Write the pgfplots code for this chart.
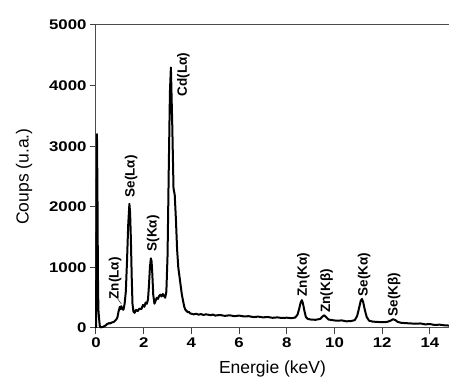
\documentclass[border=0pt]{standalone}
\usepackage{fontspec}
\setmainfont{Liberation Sans}
\newfontfamily\tickfont[FakeStretch=1.2]{Liberation Sans}
\usepackage{pgfplots}
\pgfplotsset{compat=1.18}

\begin{document}
\begin{tikzpicture}
  \begin{axis}[
      scale only axis,
      width=353pt, height=303pt,
      xmin=0, xmax=14.8, ymin=0, ymax=5000,
      axis lines*=left,
      axis line style={line width=1pt, black!70},
      xtick={0,2,...,14},
      ytick={0,1000,...,5000},
      tick align=outside,
      major tick length=6pt,
      tick style={line width=1pt, black!75},
      /pgf/number format/assume math mode=true,
      /pgf/number format/1000 sep={},
      ticklabel style={font=\tickfont\bfseries\fontsize{14}{14}\selectfont},
      xlabel={Energie (keV)},
      ylabel={Coups (u.a.)},
      xlabel style={font=\fontsize{17.5}{17.5}\selectfont, yshift=-6.5pt},
      ylabel style={font=\fontsize{17.5}{17.5}\selectfont},
      ylabel shift=10pt,
      clip=false,
    ]
    \addplot[black, line width=2pt, line join=round] coordinates {
      (0.00,0) (0.02,1500) (0.04,3200) (0.06,2300) (0.08,900) (0.10,300)
      (0.13,150) (0.16,30) (0.20,10) (0.25,15) (0.30,20) (0.35,30)
      (0.40,40) (0.45,60) (0.50,70) (0.55,80) (0.60,75) (0.65,90)
      (0.70,95) (0.75,100) (0.80,120) (0.85,140) (0.90,180) (0.95,280)
      (1.00,350) (1.03,310) (1.06,360) (1.10,320) (1.15,300) (1.20,400)
      (1.25,600) (1.30,1100) (1.35,1700) (1.40,2050) (1.43,1900) (1.46,1500)
      (1.50,800) (1.53,400) (1.57,270) (1.62,250) (1.68,300) (1.75,280)
      (1.82,320) (1.90,310) (1.97,380) (2.03,350) (2.08,420) (2.13,400)
      (2.18,470) (2.22,700) (2.26,1000) (2.30,1150) (2.33,1100) (2.36,900)
      (2.40,550) (2.45,400) (2.50,450) (2.55,500) (2.60,480) (2.65,530)
      (2.70,550) (2.75,520) (2.80,560) (2.85,530) (2.90,500) (2.95,600)
      (3.00,1200) (3.05,2600) (3.10,3900) (3.14,4300) (3.17,3800) (3.20,3300)
      (3.25,2300) (3.30,2200) (3.35,1800) (3.40,1300) (3.45,1000) (3.50,850)
      (3.55,700) (3.60,550) (3.65,450) (3.70,350) (3.75,300) (3.80,280)
      (3.85,260) (3.90,265) (3.95,240) (4.00,235) (4.10,225) (4.20,235)
      (4.30,220) (4.40,230) (4.50,215) (4.60,225) (4.70,220) (4.80,210)
      (4.90,222) (5.00,205) (5.20,215) (5.40,200) (5.60,210) (5.80,195)
      (6.00,205) (6.20,190) (6.40,195) (6.60,180) (6.80,188) (7.00,175)
      (7.20,182) (7.40,168) (7.60,175) (7.80,165) (8.00,170) (8.20,162)
      (8.35,172) (8.45,220) (8.52,320) (8.58,420) (8.63,460) (8.68,400)
      (8.74,280) (8.80,180) (8.88,150) (9.00,140) (9.20,135) (9.40,150)
      (9.50,190) (9.57,210) (9.65,180) (9.75,140) (9.90,130) (10.10,120)
      (10.30,125) (10.50,110) (10.70,115) (10.85,130) (10.95,200) (11.03,330)
      (11.10,450) (11.15,480) (11.20,430) (11.27,300) (11.35,180) (11.45,120)
      (11.60,105) (11.80,100) (12.00,95) (12.20,100) (12.35,120) (12.45,145)
      (12.55,130) (12.65,100) (12.80,85) (13.00,80) (13.20,75) (13.40,70)
      (13.60,75) (13.80,60) (14.00,65) (14.20,50) (14.40,55) (14.60,45)
      (14.80,40)
    };
    \begin{scope}[every node/.style={rotate=90, anchor=west, inner sep=0pt,
        font=\bfseries\fontsize{13.5}{13.5}\selectfont}]
      \node at (axis cs:0.80,470) {Zn(Lα)};
      \node at (axis cs:1.47,2150) {Se(Lα)};
      \node at (axis cs:2.40,1260) {S(Kα)};
      \node at (axis cs:3.66,3820) {Cd(Lα)};
      \node at (axis cs:8.69,520) {Zn(Kα)};
      \node at (axis cs:9.67,250) {Zn(Kβ)};
      \node at (axis cs:11.24,520) {Se(Kα)};
      \node at (axis cs:12.50,190) {Se(Kβ)};
    \end{scope}
    \draw[black!70, line width=0.6pt] (axis cs:0.91,480) -- (axis cs:1.06,400);
    \draw[black!70, line width=1pt] (rel axis cs:0,1) -- (rel axis cs:1,1);
    \coordinate (bl) at (rel axis cs:0,0);
    \coordinate (tr) at (rel axis cs:1,1);
  \end{axis}
  \pgfresetboundingbox
  \path ([shift={(-96pt,-50pt)}]bl) rectangle ([shift={(0pt,25pt)}]tr);
\end{tikzpicture}
\end{document}
